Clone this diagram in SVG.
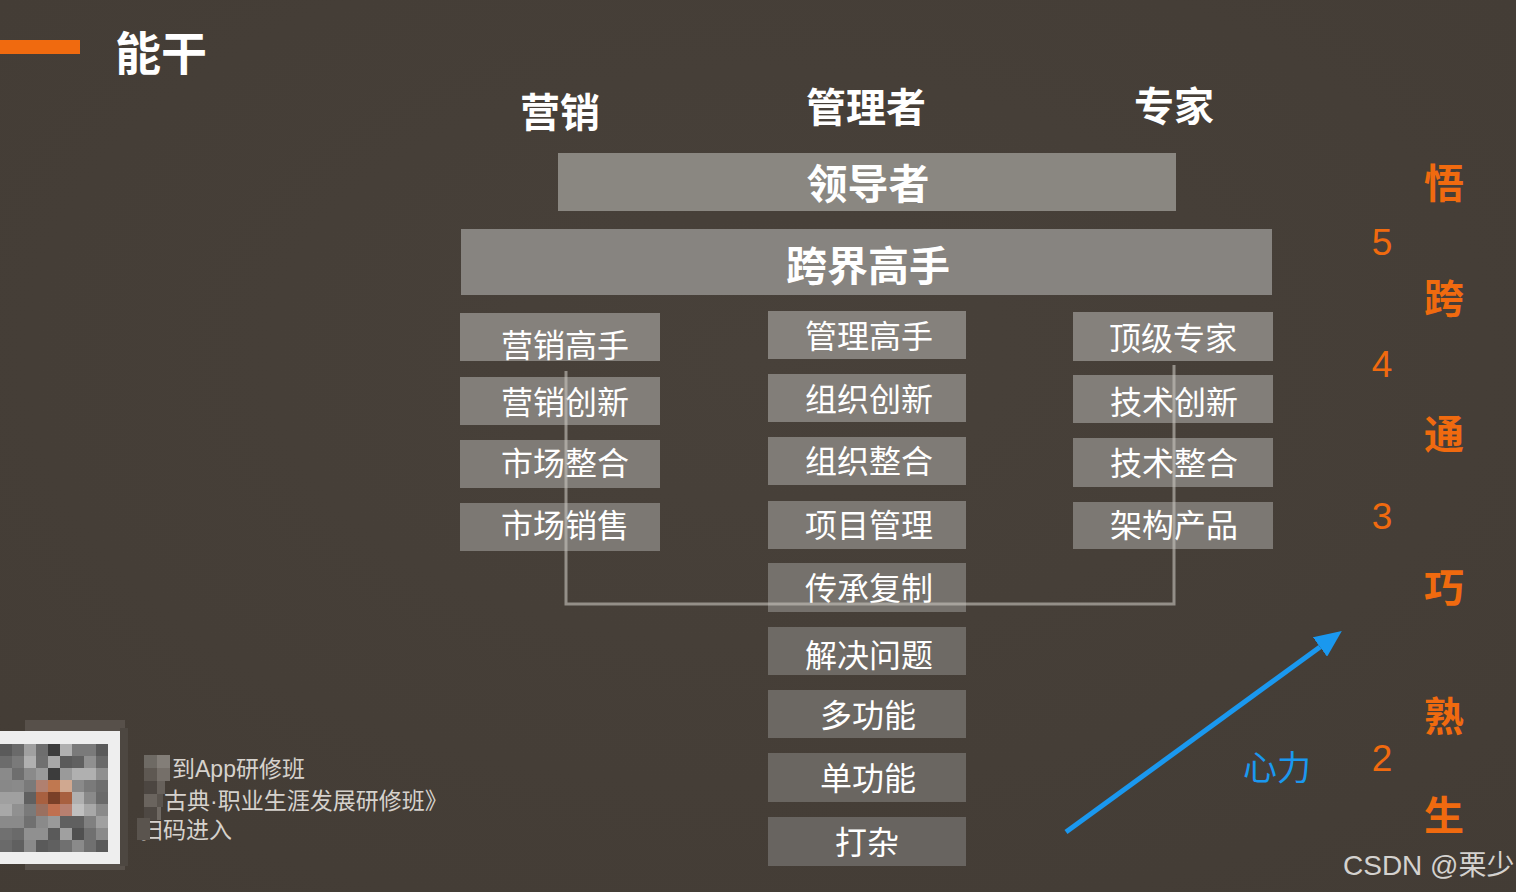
<svg xmlns="http://www.w3.org/2000/svg" width="1516" height="892" viewBox="0 0 1516 892">
<defs>
<style>
.cjk{font-family:"Noto Sans CJK SC","Noto Sans",sans-serif;}
.hd{font-family:"Noto Sans CJK SC",sans-serif;font-weight:bold;fill:#ffffff;font-size:40px;text-anchor:middle;}
.bx{stroke:none;}
.bt{font-family:"Noto Sans CJK SC",sans-serif;fill:#ffffff;font-size:32px;text-anchor:middle;}
.big{font-family:"Noto Sans CJK SC",sans-serif;font-weight:bold;fill:#ffffff;font-size:41px;text-anchor:middle;}
.num{font-family:"Liberation Sans","Noto Sans CJK SC",sans-serif;fill:#f06a0f;font-size:37px;text-anchor:middle;}
.lv{font-family:"Noto Sans CJK SC",sans-serif;font-weight:bold;fill:#f06a0f;font-size:40px;text-anchor:middle;}
.qt{font-family:"Liberation Sans","Noto Sans CJK SC",sans-serif;fill:#d6d2cd;font-size:23px;}
</style>
<marker id="ah" markerUnits="userSpaceOnUse" markerWidth="28" markerHeight="24" refX="0" refY="12" orient="auto">
<path d="M0,0 L27,12 L0,24 z" fill="#1a98ef"/>
</marker>
<radialGradient id="bg" cx="0.5" cy="0.4" r="0.8">
<stop offset="0" stop-color="#48413a"/>
<stop offset="1" stop-color="#433c35"/>
</radialGradient>
</defs>

<rect x="0" y="0" width="1516" height="892" fill="url(#bg)"/>

<g id="title">
<rect x="0" y="40" width="80" height="14" fill="#f06a0f"/>
<text x="115" y="70" class="cjk" font-size="46" font-weight="bold" fill="#ffffff">能干</text>
</g>

<g id="headers">
<text x="560" y="127" class="hd">营销</text>
<text x="866" y="122" class="hd">管理者</text>
<text x="1174" y="121" class="hd">专家</text>
</g>

<g id="node-leader"><rect class="bx" x="558" y="153" width="618" height="58" fill="#8a8781"/><text x="868" y="199" class="big">领导者</text></g>
<g id="node-crossover"><rect class="bx" x="461" y="229" width="811" height="66" fill="#878480"/><text x="868" y="281" class="big" font-size="42">跨界高手</text></g>

<g id="node-l1"><rect class="bx" x="460" y="313" width="200" height="48" fill="#85817c"/><text x="565" y="357" class="bt">营销高手</text></g>
<g id="node-l2"><rect class="bx" x="460" y="377" width="200" height="48" fill="#827e79"/><text x="565" y="414" class="bt">营销创新</text></g>
<g id="node-l3"><rect class="bx" x="460" y="440" width="200" height="48" fill="#7f7b76"/><text x="565" y="475" class="bt">市场整合</text></g>
<g id="node-l4"><rect class="bx" x="460" y="503" width="200" height="48" fill="#7c7873"/><text x="565" y="537" class="bt">市场销售</text></g>

<g id="node-m1"><rect class="bx" x="768" y="311" width="198" height="48" fill="#85817c"/><text x="869" y="348" class="bt">管理高手</text></g>
<g id="node-m2"><rect class="bx" x="768" y="374" width="198" height="48" fill="#827e79"/><text x="869" y="411" class="bt">组织创新</text></g>
<g id="node-m3"><rect class="bx" x="768" y="437" width="198" height="48" fill="#7f7b76"/><text x="869" y="473" class="bt">组织整合</text></g>
<g id="node-m4"><rect class="bx" x="768" y="501" width="198" height="48" fill="#7c7873"/><text x="869" y="537" class="bt">项目管理</text></g>
<g id="node-m5"><rect class="bx" x="768" y="563" width="198" height="49" fill="#75716c"/><text x="869" y="600" class="bt">传承复制</text></g>
<g id="node-m6"><rect class="bx" x="768" y="627" width="198" height="48" fill="#6e6a65"/><text x="869" y="667" class="bt">解决问题</text></g>
<g id="node-m7"><rect class="bx" x="768" y="690" width="198" height="48" fill="#6c6863"/><text x="868" y="727" class="bt">多功能</text></g>
<g id="node-m8"><rect class="bx" x="768" y="753" width="198" height="49" fill="#6a6661"/><text x="868" y="790" class="bt">单功能</text></g>
<g id="node-m9"><rect class="bx" x="768" y="817" width="198" height="49" fill="#686460"/><text x="867" y="854" class="bt">打杂</text></g>

<g id="node-r1"><rect class="bx" x="1073" y="312" width="200" height="49" fill="#85817c"/><text x="1173" y="350" class="bt">顶级专家</text></g>
<g id="node-r2"><rect class="bx" x="1073" y="375" width="200" height="48" fill="#827e79"/><text x="1174" y="414" class="bt">技术创新</text></g>
<g id="node-r3"><rect class="bx" x="1073" y="438" width="200" height="49" fill="#7f7b76"/><text x="1174" y="475" class="bt">技术整合</text></g>
<g id="node-r4"><rect class="bx" x="1073" y="502" width="200" height="47" fill="#7c7873"/><text x="1174" y="537" class="bt">架构产品</text></g>

<g id="connectors">
<polyline points="566,371 566,604 1174,604 1174,365" fill="none" stroke="#c8c4be" stroke-opacity="0.6" stroke-width="3"/>
<line x1="1066" y1="832" x2="1320" y2="647" stroke="#1a98ef" stroke-width="5" marker-end="url(#ah)"/>
</g>

<g id="label-xinli"><text x="1243" y="780" class="cjk" font-size="34" fill="#1a98ef">心力</text></g>

<g id="levels">
<text x="1382" y="255" class="num">5</text>
<text x="1382" y="377" class="num">4</text>
<text x="1382" y="529" class="num">3</text>
<text x="1382" y="771" class="num">2</text>
<text x="1444" y="198" class="lv">悟</text>
<text x="1444" y="313" class="lv">跨</text>
<text x="1444" y="449" class="lv">通</text>
<text x="1444" y="602" class="lv">巧</text>
<text x="1444" y="731" class="lv">熟</text>
<text x="1444" y="830" class="lv">生</text>
</g>

<g id="qr">
<rect x="25" y="720" width="100" height="150" fill="#57504a"/>
<rect x="120" y="728" width="8" height="138" fill="#4d4741"/>
<rect x="0" y="731" width="120" height="133" fill="#eeeeee"/>
<g>
<rect x="0" y="744" width="12" height="12" fill="#5a5a5a"/><rect x="12" y="744" width="12" height="12" fill="#6a6a6a"/><rect x="24" y="744" width="12" height="12" fill="#a0a0a0"/><rect x="36" y="744" width="12" height="12" fill="#6e6e6e"/><rect x="48" y="744" width="12" height="12" fill="#3c3c3c"/><rect x="60" y="744" width="12" height="12" fill="#b0b0b0"/><rect x="72" y="744" width="12" height="12" fill="#7a7a7a"/><rect x="84" y="744" width="12" height="12" fill="#7a7a7a"/><rect x="96" y="744" width="12" height="12" fill="#5a5a5a"/>
<rect x="0" y="756" width="12" height="12" fill="#6c6c6c"/><rect x="12" y="756" width="12" height="12" fill="#7a7a7a"/><rect x="24" y="756" width="12" height="12" fill="#b0b0b0"/><rect x="36" y="756" width="12" height="12" fill="#707070"/><rect x="48" y="756" width="12" height="12" fill="#a8a8a8"/><rect x="60" y="756" width="12" height="12" fill="#5a5a5a"/><rect x="72" y="756" width="12" height="12" fill="#606060"/><rect x="84" y="756" width="12" height="12" fill="#909090"/><rect x="96" y="756" width="12" height="12" fill="#6a6a6a"/>
<rect x="0" y="768" width="12" height="12" fill="#8a8a8a"/><rect x="12" y="768" width="12" height="12" fill="#6e6e6e"/><rect x="24" y="768" width="12" height="12" fill="#8a8a8a"/><rect x="36" y="768" width="12" height="12" fill="#9a9a9a"/><rect x="48" y="768" width="12" height="12" fill="#3c3c3c"/><rect x="60" y="768" width="12" height="12" fill="#9a9a9a"/><rect x="72" y="768" width="12" height="12" fill="#b0b0b0"/><rect x="84" y="768" width="12" height="12" fill="#b0b0b0"/><rect x="96" y="768" width="12" height="12" fill="#909090"/>
<rect x="0" y="780" width="12" height="12" fill="#888888"/><rect x="12" y="780" width="12" height="12" fill="#8a8a8a"/><rect x="24" y="780" width="12" height="12" fill="#7a7a7a"/><rect x="36" y="780" width="12" height="12" fill="#b08070"/><rect x="48" y="780" width="12" height="12" fill="#c07850"/><rect x="60" y="780" width="12" height="12" fill="#d0a890"/><rect x="72" y="780" width="12" height="12" fill="#8a8a8a"/><rect x="84" y="780" width="12" height="12" fill="#7a7a7a"/><rect x="96" y="780" width="12" height="12" fill="#6e6e6e"/>
<rect x="0" y="792" width="12" height="12" fill="#a0a0a0"/><rect x="12" y="792" width="12" height="12" fill="#a0a0a0"/><rect x="24" y="792" width="12" height="12" fill="#606060"/><rect x="36" y="792" width="12" height="12" fill="#a86040"/><rect x="48" y="792" width="12" height="12" fill="#7a4028"/><rect x="60" y="792" width="12" height="12" fill="#a86040"/><rect x="72" y="792" width="12" height="12" fill="#b0b0b0"/><rect x="84" y="792" width="12" height="12" fill="#8a8a8a"/><rect x="96" y="792" width="12" height="12" fill="#6a6a6a"/>
<rect x="0" y="804" width="12" height="12" fill="#a8a8a8"/><rect x="12" y="804" width="12" height="12" fill="#909090"/><rect x="24" y="804" width="12" height="12" fill="#7a7a7a"/><rect x="36" y="804" width="12" height="12" fill="#9a7060"/><rect x="48" y="804" width="12" height="12" fill="#c07050"/><rect x="60" y="804" width="12" height="12" fill="#b88070"/><rect x="72" y="804" width="12" height="12" fill="#c0c0c0"/><rect x="84" y="804" width="12" height="12" fill="#a8a8a8"/><rect x="96" y="804" width="12" height="12" fill="#8a8a8a"/>
<rect x="0" y="816" width="12" height="12" fill="#8a8a8a"/><rect x="12" y="816" width="12" height="12" fill="#8a8a8a"/><rect x="24" y="816" width="12" height="12" fill="#707070"/><rect x="36" y="816" width="12" height="12" fill="#8a8a8a"/><rect x="48" y="816" width="12" height="12" fill="#9a9a9a"/><rect x="60" y="816" width="12" height="12" fill="#606060"/><rect x="72" y="816" width="12" height="12" fill="#606060"/><rect x="84" y="816" width="12" height="12" fill="#808080"/><rect x="96" y="816" width="12" height="12" fill="#a0a0a0"/>
<rect x="0" y="828" width="12" height="12" fill="#707070"/><rect x="12" y="828" width="12" height="12" fill="#6a6a6a"/><rect x="24" y="828" width="12" height="12" fill="#909090"/><rect x="36" y="828" width="12" height="12" fill="#909090"/><rect x="48" y="828" width="12" height="12" fill="#5a5a5a"/><rect x="60" y="828" width="12" height="12" fill="#a0a0a0"/><rect x="72" y="828" width="12" height="12" fill="#505050"/><rect x="84" y="828" width="12" height="12" fill="#707070"/><rect x="96" y="828" width="12" height="12" fill="#8a8a8a"/>
<rect x="0" y="840" width="12" height="12" fill="#6a6a6a"/><rect x="12" y="840" width="12" height="12" fill="#606060"/><rect x="24" y="840" width="12" height="12" fill="#8a8a8a"/><rect x="36" y="840" width="12" height="12" fill="#5a5a5a"/><rect x="48" y="840" width="12" height="12" fill="#606060"/><rect x="60" y="840" width="12" height="12" fill="#707070"/><rect x="72" y="840" width="12" height="12" fill="#8a8a8a"/><rect x="84" y="840" width="12" height="12" fill="#707070"/><rect x="96" y="840" width="12" height="12" fill="#5a5a5a"/>
</g>
</g>

<g id="qr-text">
<text x="172" y="777" class="qt">到App研修班</text>
<text x="164" y="809" class="qt">古典·职业生涯发展研修班》</text>
<text x="140" y="838" class="qt">扫码进入</text>
<rect x="144" y="755" width="13" height="13" fill="#6e6a64"/><rect x="157" y="755" width="13" height="13" fill="#837e78"/>
<rect x="144" y="768" width="13" height="13" fill="#5e5852"/><rect x="157" y="768" width="13" height="13" fill="#756f69"/>
<rect x="144" y="781" width="13" height="13" fill="#4c4641"/><rect x="157" y="781" width="8" height="13" fill="#67615b"/>
<rect x="144" y="794" width="13" height="13" fill="#6a645e"/><rect x="157" y="794" width="6" height="13" fill="#5a544e"/>
<rect x="144" y="807" width="13" height="13" fill="#4e4843"/><rect x="157" y="807" width="4" height="13" fill="#6f6963"/>
<rect x="137" y="818" width="13" height="22" fill="#5a544e"/>
</g>

<g id="watermark"><text x="1343" y="875" font-family="Liberation Sans,'Noto Sans CJK SC',sans-serif" font-size="28" fill="#d4d2cf">CSDN @栗少</text></g>
</svg>
